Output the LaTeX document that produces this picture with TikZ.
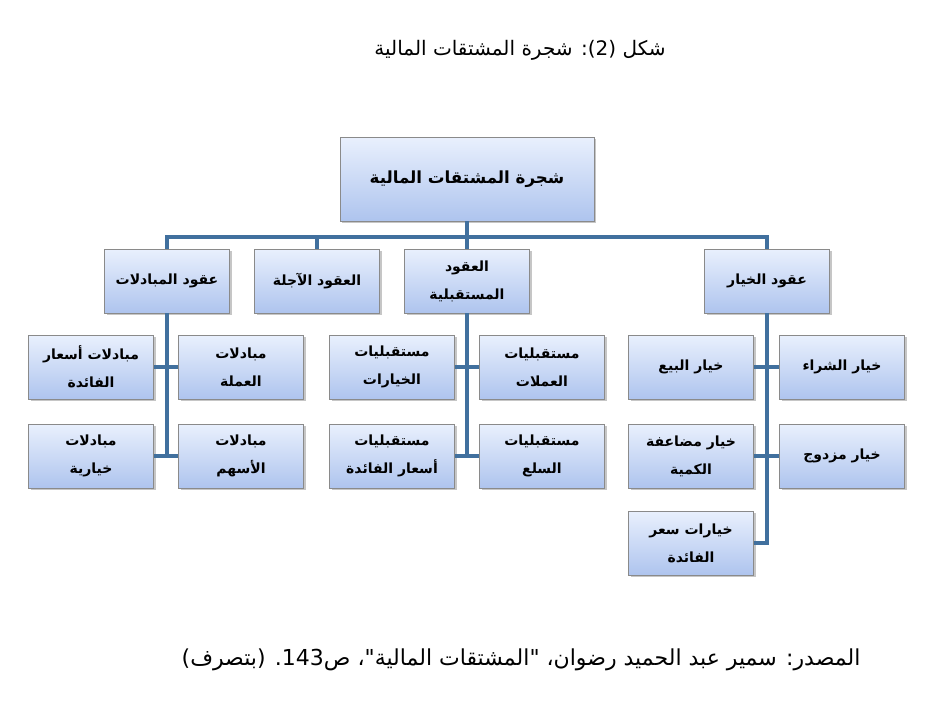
\documentclass[tikz,border=0pt]{standalone}
\usepackage{fontspec}
\usetikzlibrary{shadows}
\TeXXeTstate=1
\newfontfamily\arabicfont[Script=Arabic]{DejaVu Sans}
\newcommand{\ar}[1]{\beginR #1\endR}

\definecolor{boxtop}{HTML}{E9F0FD}
\definecolor{boxbot}{HTML}{AEC4EE}
\definecolor{boxline}{HTML}{8A8A8A}
\definecolor{linkblue}{HTML}{41709E}

\tikzset{
	box/.style={draw=boxline, thin, top color=boxtop, bottom color=boxbot,
		minimum width=93.75pt, minimum height=48pt, align=center, inner sep=2pt,
		font=\arabicfont\bfseries\fontsize{10.5}{21}\selectfont,
		drop shadow={shadow xshift=1.5pt, shadow yshift=-1.5pt, opacity=0.45}},
	rootbox/.style={box, minimum width=190.5pt, minimum height=63pt,
		font=\arabicfont\bfseries\fontsize{12.5}{18}\selectfont},
	link/.style={draw=linkblue, line width=3pt},
	caption/.style={font=\arabicfont\fontsize{15}{18}\selectfont}
}

\begin{document}
\begin{tikzpicture}[x=0.75pt, y=-0.75pt]
	\useasboundingbox (0,0) rectangle (937,701);
	\node [caption] (title) at (520,50) {\ar{شكل \beginL(2):\endL{} شجرة المشتقات المالية}};

	\node [rootbox] (root) at (467,179) {\ar{شجرة المشتقات المالية}};
	\coordinate (bus) at (467,237);

	\node [box] (swaps) at (167,281) {\ar{عقود المبادلات}};
	\node [box] (forwards) at (317,281) {\ar{العقود الآجلة}};
	\node [box] (futures) at (467,281) {\ar{العقود}\\\ar{المستقبلية}};
	\node [box] (options) at (767,281) {\ar{عقود الخيار}};

	% swaps
	\node [box] (swapRate) at (91,367) {\ar{مبادلات أسعار}\\\ar{الفائدة}};
	\node [box] (swapCur) at (241,367) {\ar{مبادلات}\\\ar{العملة}};
	\node [box] (swapOpt) at (91,456) {\ar{مبادلات}\\\ar{خيارية}};
	\node [box] (swapEq) at (241,456) {\ar{مبادلات}\\\ar{الأسهم}};

	% futures
	\node [box] (futOpt) at (392,367) {\ar{مستقبليات}\\\ar{الخيارات}};
	\node [box] (futCur) at (542,367) {\ar{مستقبليات}\\\ar{العملات}};
	\node [box] (futRate) at (392,456) {\ar{مستقبليات}\\\ar{أسعار الفائدة}};
	\node [box] (futGoods) at (542,456) {\ar{مستقبليات}\\\ar{السلع}};

	% options
	\node [box] (optPut) at (691,367) {\ar{خيار البيع}};
	\node [box] (optCall) at (842,367) {\ar{خيار الشراء}};
	\node [box] (optMult) at (691,456) {\ar{خيار مضاعفة}\\\ar{الكمية}};
	\node [box] (optDual) at (842,456) {\ar{خيار مزدوج}};
	\node [box] (optRate) at (691,543) {\ar{خيارات سعر}\\\ar{الفائدة}};

	\draw [link] (root.south) -- (futures.north);
	\draw [link] (swaps.north) -- (swaps.north |- bus) -| (options.north);
	\draw [link] (forwards.north) -- (forwards.north |- bus);

	\draw [link] (swaps.south) -- (swaps.south |- swapOpt.east);
	\draw [link] (swapRate.east) -- (swapCur.west);
	\draw [link] (swapOpt.east) -- (swapEq.west);

	\draw [link] (futures.south) -- (futures.south |- futRate.east);
	\draw [link] (futOpt.east) -- (futCur.west);
	\draw [link] (futRate.east) -- (futGoods.west);

	\draw [link] (options.south) |- (optRate.east);
	\draw [link] (optPut.east) -- (optCall.west);
	\draw [link] (optMult.east) -- (optDual.west);

	\node [caption, font=\arabicfont\fontsize{16.5}{20}\selectfont] (source) at (521,660) {\ar{المصدر: سمير عبد الحميد رضوان، "المشتقات المالية"، ص143. (بتصرف)}};
\end{tikzpicture}
\end{document}
